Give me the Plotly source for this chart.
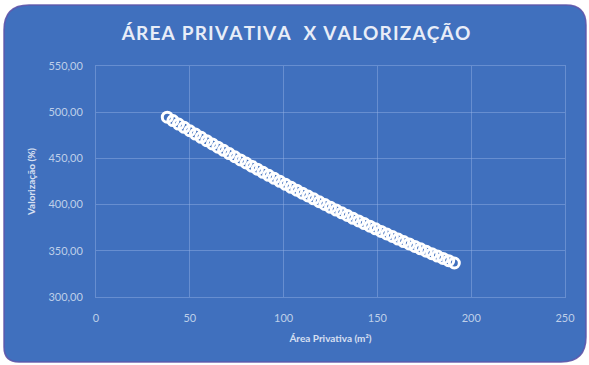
import plotly.graph_objects as go

# Área privativa (m²) e valorização (%) de cada unidade
area_privativa = [38, 41, 44, 47, 50, 53, 56, 59, 62, 65, 68, 71, 74, 77, 80, 83, 86, 89,
                  92, 95, 98, 101, 104, 107, 110, 113, 116, 119, 122, 125, 128, 131, 134,
                  137, 140, 143, 146, 149, 152, 155, 158, 161, 164, 167, 170, 173, 176,
                  179, 182, 185, 188, 191]
valorizacao = [494.6, 490.9, 487.2, 483.6, 479.9, 476.3, 472.8, 469.2, 465.7, 462.1,
               458.7, 455.2, 451.8, 448.4, 445.0, 441.6, 438.3, 434.9, 431.7, 428.4,
               425.2, 421.9, 418.7, 415.6, 412.4, 409.3, 406.2, 403.1, 400.1, 397.1,
               394.1, 391.1, 388.2, 385.2, 382.3, 379.5, 376.6, 373.8, 371.0, 368.2,
               365.5, 362.7, 360.0, 357.4, 354.7, 352.1, 349.5, 346.9, 344.3, 341.8,
               339.3, 336.8]

x_ticks = [0, 50, 100, 150, 200, 250]
y_ticks = [300, 350, 400, 450, 500, 550]

TITLE = "ÁREA PRIVATIVA  X VALORIZAÇÃO"

W, H = 589, 365
ML, MR, MT, MB = 96, 24, 66, 68
PW, PH = W - ML - MR, H - MT - MB

CARD = "rgb(64,112,190)"
GRID = "rgba(150,180,230,0.45)"
TICK = "rgba(215,225,242,0.85)"


def px(xp):
    return (xp - ML) / PW


def py(yp):
    return (H - MB - yp) / PH


def card_path(x0, y0, x1, y1, r_tl, r_tr, r_br, r_bl):
    pts = [
        f"M{px(x0 + r_tl)},{py(y0)}",
        f"L{px(x1 - r_tr)},{py(y0)}",
        f"Q{px(x1)},{py(y0)} {px(x1)},{py(y0 + r_tr)}",
        f"L{px(x1)},{py(y1 - r_br)}",
        f"Q{px(x1)},{py(y1)} {px(x1 - r_br)},{py(y1)}",
        f"L{px(x0 + r_bl)},{py(y1)}",
        f"Q{px(x0)},{py(y1)} {px(x0)},{py(y1 - r_bl)}",
        f"L{px(x0)},{py(y0 + r_tl)}",
        f"Q{px(x0)},{py(y0)} {px(x0 + r_tl)},{py(y0)}",
        "Z",
    ]
    return " ".join(pts)


# spaced-out title lettering (hair spaces between glyphs)
spaced_title = "\u200a".join(TITLE)

fig = go.Figure()
fig.add_trace(go.Scatter(
    x=area_privativa, y=valorizacao, mode="markers",
    marker=dict(symbol="circle-open", size=10, color="white",
                line=dict(width=3, color="rgba(250,250,252,0.95)")),
    showlegend=False, hoverinfo="x+y",
))

fig.add_shape(type="path", xref="paper", yref="paper", layer="below",
              path=card_path(4, 5, 586, 362, 25, 20, 25, 15),
              fillcolor=CARD, line=dict(color="rgba(95,85,170,0.9)", width=1.5))

fig.update_layout(
    width=W, height=H,
    margin=dict(l=ML, r=MR, t=MT, b=MB),
    paper_bgcolor="white", plot_bgcolor="rgba(0,0,0,0)",
    separators=", ",
    font=dict(family="Lato, 'Open Sans', sans-serif", color=TICK),
    title=dict(text=spaced_title, x=296 / W, xanchor="center",
               y=1 - 33 / H, yanchor="middle",
               font=dict(size=19, color="rgba(238,242,250,0.97)", weight="bold",
                         family="Lato, 'Open Sans', sans-serif")),
)

fig.update_xaxes(
    range=[0, 250], tickvals=x_ticks, showgrid=True, gridcolor=GRID, gridwidth=1,
    zeroline=False, showline=True, linecolor=GRID, mirror=True,
    ticks="", ticklabelstandoff=11, tickfont=dict(size=11, color=TICK),
    title=dict(text="Área Privativa (m²)", standoff=11,
               font=dict(size=10, color="rgba(230,236,248,0.9)", weight="bold")),
)
fig.update_yaxes(
    range=[300, 550], tickvals=y_ticks, tickformat=".2f", showgrid=True,
    gridcolor=GRID, gridwidth=1, zeroline=False, showline=True, linecolor=GRID,
    mirror=True, ticks="", ticklabelstandoff=10, tickfont=dict(size=11, color=TICK),
    title=dict(text="Valorização (%)", standoff=10,
               font=dict(size=10, color="rgba(230,236,248,0.9)", weight="bold")),
)

fig.write_html("out.html")
